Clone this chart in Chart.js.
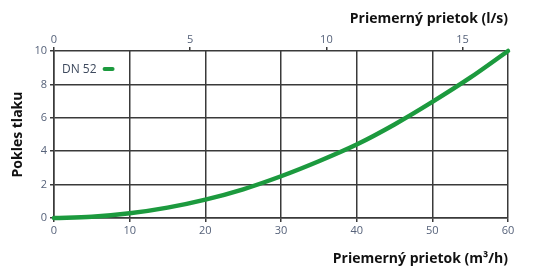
<!DOCTYPE html>
<html>
<head>
<meta charset="utf-8">
<script src="https://cdn.jsdelivr.net/npm/chart.js@4"></script>
<style>
  html, body { margin: 0; padding: 0; background: #fff; }
  #wrap { width: 536px; height: 276px; }
</style>
</head>
<body>
<div id="wrap"><canvas id="myChart" width="536" height="276"></canvas></div>
<script>
// data
var seriesLabel = 'DN 52'
var flowM3h = [0, 5, 10, 15, 20, 25, 30, 35, 40, 45, 50, 55, 60]
var pressureDrop = [0, 0.07, 0.28, 0.62, 1.1, 1.72, 2.5, 3.4, 4.4, 5.6, 6.95, 8.4, 10]
var flowTicksM3h = [0, 10, 20, 30, 40, 50, 60]
var flowTicksLs = [0, 5, 10, 15]
var dropTicks = [0, 2, 4, 6, 8, 10]

var tickColor = '#56627a'
var gridColor = '#3a3a3a'
var lineGreen = '#1c9a3e'

var points = []
for (var i = 0; i < flowM3h.length; i++) {
    points.push({ x: flowM3h[i], y: pressureDrop[i] })
}

// legend drawn inside the plot, text first then the line
var innerLegend = {
    id: 'innerLegend',
    afterDraw: function(chart) {
        var ctx = chart.ctx
        var area = chart.chartArea
        ctx.save()
        ctx.font = '12px "Open Sans"'
        ctx.fillStyle = '#3e4a5e'
        ctx.textBaseline = 'middle'
        ctx.fillText(seriesLabel, area.left + 8, area.top + 19)
        var w = ctx.measureText(seriesLabel).width
        ctx.strokeStyle = lineGreen
        ctx.lineWidth = 4
        ctx.lineCap = 'round'
        ctx.beginPath()
        ctx.moveTo(area.left + 8 + w + 8, area.top + 18)
        ctx.lineTo(area.left + 8 + w + 16, area.top + 18)
        ctx.stroke()
        ctx.restore()
    }
}

window.onload = function() {
    var ctx = document.getElementById('myChart')
    new Chart(ctx, {
        type: 'line',
        data: {
            datasets: [{
                label: seriesLabel,
                data: points,
                borderColor: lineGreen,
                borderWidth: 4.5,
                borderCapStyle: 'round',
                pointRadius: 0,
                cubicInterpolationMode: 'monotone',
                clip: false
            }]
        },
        options: {
            responsive: false,
            animation: false,
            layout: { padding: { left: 0, right: 28, top: 0, bottom: 0 } },
            plugins: { legend: { display: false }, tooltip: { enabled: false } },
            scales: {
                x: {
                    type: 'linear',
                    position: 'bottom',
                    min: 0,
                    max: 60,
                    afterBuildTicks: function(s) { s.ticks = flowTicksM3h.map(function(v) { return { value: v } }) },
                    afterFit: function(s) { s.height = 58 },
                    grid: { color: gridColor, lineWidth: 1.5, tickLength: 4 },
                    border: { color: gridColor, width: 1.5 },
                    ticks: { color: tickColor, padding: 2, font: { family: 'Open Sans', size: 11 }, maxRotation: 0 },
                    title: {
                        display: true,
                        text: 'Priemerný prietok (m³/h)',
                        align: 'end',
                        color: '#111',
                        font: { family: 'Open Sans', size: 14, weight: 'bold' },
                        padding: { top: 0, bottom: 9 }
                    }
                },
                x2: {
                    type: 'linear',
                    position: 'top',
                    min: 0,
                    max: 60 / 3.6,
                    afterBuildTicks: function(s) { s.ticks = flowTicksLs.map(function(v) { return { value: v } }) },
                    afterFit: function(s) { s.height = 51 },
                    grid: { drawOnChartArea: false, color: gridColor, lineWidth: 1.5, tickLength: 4 },
                    border: { display: false },
                    ticks: { color: tickColor, padding: 1, font: { family: 'Open Sans', size: 11 }, maxRotation: 0 },
                    title: {
                        display: true,
                        text: 'Priemerný prietok (l/s)',
                        align: 'end',
                        color: '#111',
                        font: { family: 'Open Sans', size: 14, weight: 'bold' },
                        padding: { top: 11, bottom: 0 }
                    }
                },
                y: {
                    min: 0,
                    max: 10,
                    afterBuildTicks: function(s) { s.ticks = dropTicks.map(function(v) { return { value: v } }) },
                    afterFit: function(s) { s.width = 54 },
                    grid: { color: gridColor, lineWidth: 1.5, tickLength: 4 },
                    border: { color: gridColor, width: 1.5 },
                    ticks: { color: tickColor, padding: 3, font: { family: 'Open Sans', size: 11 } },
                    title: {
                        display: true,
                        text: 'Pokles tlaku',
                        color: '#111',
                        font: { family: 'Open Sans', size: 14, weight: 'bold' },
                        padding: { top: 10, bottom: 0 }
                    }
                }
            }
        },
        plugins: [innerLegend]
    })
}
</script>
</body>
</html>
